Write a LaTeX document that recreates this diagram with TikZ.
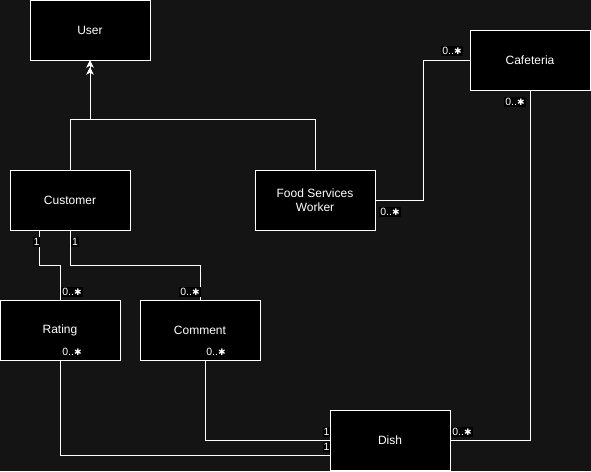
\documentclass[tikz,border=0pt]{standalone}
\usepackage{fontspec}
\setmainfont{Liberation Sans}
\newfontfamily\dingfont{DejaVu Sans}
\usetikzlibrary{arrows.meta}
\definecolor{bgdark}{RGB}{20,20,20}
\newcommand{\manymult}{0..{\dingfont\fontsize{9}{11}\selectfont ✱}}
\begin{document}
\begin{tikzpicture}[x=1pt,y=-1pt,
        cls/.style={draw=white,line width=1pt,fill=black,text=white,minimum width=120pt,minimum height=60pt,inner sep=2pt,align=center,font=\fontsize{12}{14}\selectfont},
        mult/.style={fill=black,text=white,inner sep=1pt,font=\fontsize{10.5}{12}\selectfont},
        conn/.style={draw=white,line width=1pt},
        isa/.style={conn,-{Stealth[length=7pt,width=7pt,inset=2pt] Stealth[length=7pt,width=7pt,inset=2pt]}}]
        %% background
        \fill[bgdark] (0,0) rectangle (591,471);
        \useasboundingbox (0,0) rectangle (591,471);
        %% Classes
        \node[cls] (user) at (90,30) {User};
        \node[cls] (cust) at (70,200) {Customer};
        \node[cls] (fsw) at (315,200) {Food Services\\Worker};
        \node[cls] (cafe) at (530,60) {Cafeteria};
        \node[cls] (rating) at (60,330) {Rating};
        \node[cls] (comment) at (200,330) {Comment};
        \node[cls] (dish) at (390,440) {Dish};
        %% Inheritance
        \draw[isa] (cust.north) -- ++(0,-50) -| (user.south);
        \draw[isa] (fsw.north) -- ++(0,-50) -| (user.south);
        %% Associations
        \draw[conn] ([xshift=30pt]cust.south west) -- ++(0,35) -| (rating.north);
        \draw[conn] (cust.south) -- ++(0,35) -| (comment.north);
        \draw[conn] (rating.south) |- ([yshift=-15pt]dish.west);
        \draw[conn] ([xshift=5pt]comment.south) |- (dish.west);
        \draw[conn] (dish.east) -| (cafe.south);
        \draw[conn] (fsw.east) -- ++(48,0) |- (cafe.west);
        %% Multiplicities
        \node[mult] (m1) at (36.5,242) {1};
        \node[mult] (m2) at (75,242) {1};
        \node[mult] (m3) at (72,292) {\manymult};
        \node[mult] (m4) at (190,292) {\manymult};
        \node[mult] (m5) at (72,352) {\manymult};
        \node[mult] (m6) at (216,352) {\manymult};
        \node[mult] (m7) at (326.5,432) {1};
        \node[mult] (m8) at (326.5,447) {1};
        \node[mult] (m9) at (462,432) {\manymult};
        \node[mult] (m10) at (515,102) {\manymult};
        \node[mult] (m11) at (452,51) {\manymult};
        \node[mult] (m12) at (390,212) {\manymult};
\end{tikzpicture}
\end{document}
